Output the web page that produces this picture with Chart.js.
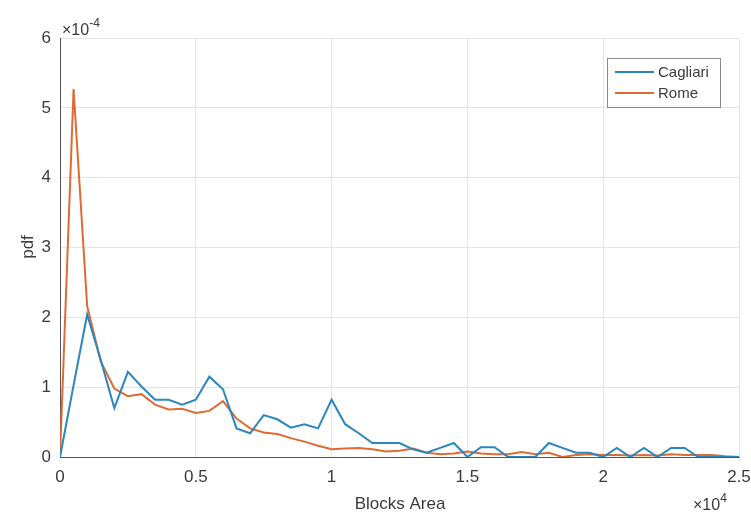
<!DOCTYPE html>
<html>
<head>
<meta charset="utf-8">
<script src="https://cdn.jsdelivr.net/npm/chart.js@4.4.0/dist/chart.umd.min.js"></script>
<style>
  html, body { margin: 0; padding: 0; background: #fff; }
  #wrap { width: 751px; height: 512px; }
</style>
</head>
<body>
<div id="wrap"><canvas id="myChart" width="751" height="512"></canvas></div>
<script>
// block area (m^2), one bin every 500
const blockArea = [0, 500, 1000, 1500, 2000, 2500, 3000, 3500, 4000, 4500,
  5000, 5500, 6000, 6500, 7000, 7500, 8000, 8500, 9000, 9500,
  10000, 10500, 11000, 11500, 12000, 12500, 13000, 13500, 14000, 14500,
  15000, 15500, 16000, 16500, 17000, 17500, 18000, 18500, 19000, 19500,
  20000, 20500, 21000, 21500, 22000, 22500, 23000, 23500, 24000, 24500, 25000];

// pdf values, in units of 1e-4
const cagliari = [0, 1.03, 2.04, 1.39, 0.70, 1.22, 1.01, 0.82, 0.82, 0.75,
  0.82, 1.15, 0.97, 0.41, 0.34, 0.60, 0.54, 0.42, 0.47, 0.41,
  0.82, 0.47, 0.34, 0.20, 0.20, 0.20, 0.11, 0.06, 0.13, 0.20,
  0.0, 0.14, 0.14, 0.0, 0.0, 0.0, 0.20, 0.13, 0.06, 0.06,
  0.0, 0.13, 0.0, 0.13, 0.0, 0.13, 0.13, 0.0, 0.0, 0.0, 0.0];

const rome = [0, 5.27, 2.16, 1.37, 0.98, 0.87, 0.90, 0.75, 0.68, 0.69,
  0.63, 0.66, 0.80, 0.55, 0.41, 0.35, 0.33, 0.27, 0.22, 0.16,
  0.11, 0.12, 0.13, 0.11, 0.08, 0.09, 0.12, 0.06, 0.04, 0.05,
  0.08, 0.05, 0.04, 0.04, 0.07, 0.04, 0.06, 0.0, 0.03, 0.04,
  0.03, 0.03, 0.02, 0.03, 0.02, 0.04, 0.03, 0.03, 0.03, 0.01, 0.0];

const seriesNames = ["Cagliari", "Rome"];
const seriesColors = ["#2a86bf", "#dd6b33"];
const xTicks = [0, 5000, 10000, 15000, 20000, 25000];
const yTicks = [0, 1, 2, 3, 4, 5, 6];

const fontFam = "'Liberation Sans', Arial, sans-serif";
const textColor = "#3a3a3a";

function pts(vals) {
  return blockArea.map(function(a, i) { return { x: a, y: vals[i] }; });
}

function expText(c, x, y, exp, ey) {
  c.font = "16px " + fontFam;
  c.fillText("\u00d710", x, y);
  const w = c.measureText("\u00d710").width;
  c.font = "12px " + fontFam;
  c.fillText(exp, x + w, ey);
}

// extra texts: axis titles, exponents, legend
const extras = {
  id: "extras",
  afterDraw: function(chart) {
    const c = chart.ctx;
    const area = chart.chartArea;
    c.save();
    c.fillStyle = textColor;
    c.textBaseline = "alphabetic";
    c.textAlign = "left";

    expText(c, area.left + 2, 35, "-4", 27);
    expText(c, 693, 510, "4", 502);

    // axis titles
    c.font = "17px " + fontFam;
    c.textAlign = "center";
    c.fillText("Blocks Area", 400, 509);
    c.save();
    c.translate(33, 247);
    c.rotate(-Math.PI / 2);
    c.fillText("pdf", 0, 0);
    c.restore();

    // legend box
    const bx = 607, by = 58, bw = 113, bh = 49;
    c.fillStyle = "#fff";
    c.fillRect(bx, by, bw, bh);
    c.strokeStyle = "#8a8a8a";
    c.lineWidth = 1;
    c.strokeRect(bx + 0.5, by + 0.5, bw, bh);
    c.font = "15px " + fontFam;
    c.textAlign = "left";
    c.textBaseline = "middle";
    chart.data.datasets.forEach(function(ds, i) {
      const yy = by + 14 + i * 21;
      c.strokeStyle = ds.borderColor;
      c.lineWidth = 2;
      c.beginPath();
      c.moveTo(bx + 8, yy);
      c.lineTo(bx + 47, yy);
      c.stroke();
      c.fillStyle = textColor;
      c.fillText(ds.label, bx + 51, yy + 1);
    });
    c.restore();
  }
};

const ctx = document.getElementById("myChart");
const myChart = new Chart(ctx, {
  type: "line",
  data: {
    datasets: [
      { label: seriesNames[0], data: pts(cagliari), borderColor: seriesColors[0],
        borderWidth: 2, pointRadius: 0, fill: false, tension: 0 },
      { label: seriesNames[1], data: pts(rome), borderColor: seriesColors[1],
        borderWidth: 2, pointRadius: 0, fill: false, tension: 0 }
    ]
  },
  options: {
    responsive: false,
    animation: false,
    layout: { padding: { top: 38, right: 12, left: 0, bottom: 0 } },
    plugins: { legend: { display: false }, tooltip: { enabled: false } },
    scales: {
      x: {
        type: "linear",
        min: 0, max: 25000,
        afterBuildTicks: function(s) { s.ticks = xTicks.map(function(v) { return { value: v }; }); },
        afterFit: function(s) { s.height = 55; s.paddingRight = 0; s.paddingLeft = 0; },
        ticks: {
          padding: 10, color: textColor, maxRotation: 0,
          font: { family: fontFam, size: 17 },
          callback: function(v) { return String(v / 10000); }
        },
        grid: { color: "#e4e4e4", drawTicks: false },
        border: { display: true, color: "#555", width: 1 }
      },
      y: {
        min: 0, max: 6,
        afterBuildTicks: function(s) { s.ticks = yTicks.map(function(v) { return { value: v }; }); },
        afterFit: function(s) { s.width = 60; s.paddingTop = 0; s.paddingBottom = 0; },
        ticks: {
          padding: 9, color: textColor,
          font: { family: fontFam, size: 17 }
        },
        grid: { color: "#e4e4e4", drawTicks: false },
        border: { display: true, color: "#555", width: 1 }
      }
    }
  },
  plugins: [extras]
});
</script>
</body>
</html>
